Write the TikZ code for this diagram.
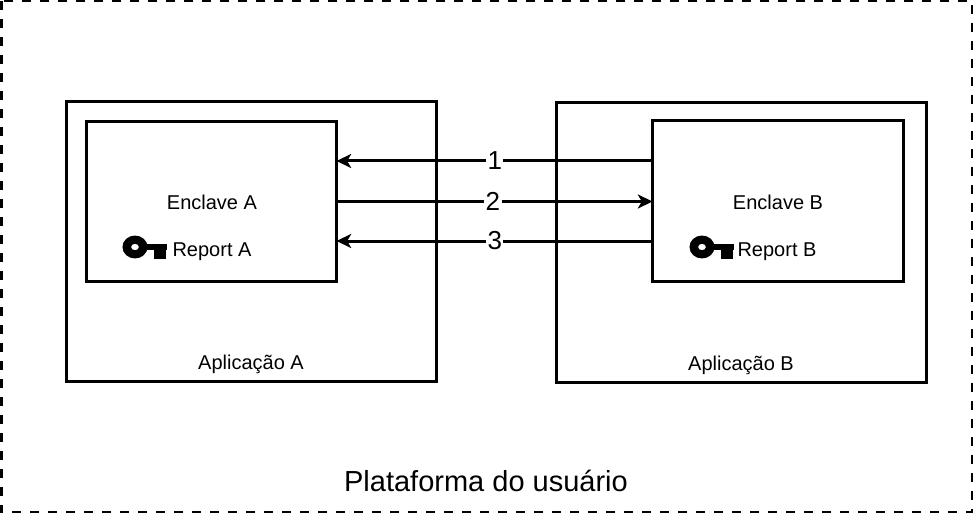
\documentclass[tikz,border=0pt]{standalone}
\usepackage{fontspec}
\setmainfont{Liberation Sans}
\usepackage{xcolor}
\usetikzlibrary{arrows.meta,calc}
\definecolor{ink}{HTML}{000000}
\tikzset{
  platform/.style={draw=ink, line width=2.25pt, dash pattern=on 6.5pt off 7pt},
  box/.style={draw=ink, line width=2.25pt, minimum width=#1, outer sep=0pt},
  lbl/.style={font=\fontsize{15}{18}\selectfont, text=ink, inner sep=0pt},
  biglbl/.style={font=\fontsize{21.75}{26}\selectfont, text=ink, inner sep=0pt},
  num/.style={font=\fontsize{19.5}{23}\selectfont, text=ink, fill=white, inner xsep=1pt, inner ysep=0pt},
  msg/.style={-{Stealth[length=11pt,width=10.5pt,inset=3pt]}, line width=2.25pt, draw=ink}
}
\newcommand{\DrawKey}[2]{% left edge x, centre y
  \fill[ink,even odd rule] (#1+12,#2) circle[x radius=9.4pt, y radius=8.6pt] (#1+12,#2) circle[x radius=3pt, y radius=2.4pt];
  \fill[ink] (#1+22,#2-3) rectangle (#1+44,#2+3);
  \fill[ink] (#1+31,#2) rectangle (#1+43,#2+12);
}

\begin{document}
\begin{tikzpicture}[x=0.75pt,y=-0.75pt]
  \useasboundingbox (0,0) rectangle (973,513);
  \fill[white] (0,0) rectangle (973,513);
  \draw[platform] (1,1) rectangle (972,512);

  \node[box=277.5pt, minimum height=209.25pt] (appA) at (251.5,241.5) {};
  \node[box=277.5pt, minimum height=209.25pt] (appB) at (741.5,242.5) {};
  \node[box=187.5pt, minimum height=119.25pt] (enclaveA) at (211.5,201.5) {};
  \node[box=188.25pt, minimum height=120pt] (enclaveB) at (778,201) {};

  \node[lbl] (txtEnclaveA) at (212,202) {Enclave A};
  \node[lbl] (txtEnclaveB) at (778,202) {Enclave B};
  \node[lbl] (txtReportA) at (212,252) {Report A};
  \node[lbl] (txtReportB) at (777,252) {Report B};
  \node[lbl] (txtAppA) at (251,364) {Aplicação A};
  \node[lbl] (txtAppB) at (741,365) {Aplicação B};
  \node[biglbl] (txtPlatform) at (486,481) {Plataforma do usuário};

  \DrawKey{123}{247}
  \DrawKey{690}{247}

  \draw[msg] ([yshift=30pt]enclaveB.west) -- node[num, pos=0.5, xshift=0.3pt, yshift=0pt] (one) {1} ([yshift=30pt]enclaveB.west -| enclaveA.east);
  \draw[msg] (enclaveA.east) -- node[num, pos=0.49, xshift=1.2pt, yshift=0pt] (two) {2} (enclaveA.east -| enclaveB.west);
  \draw[msg] ([yshift=-30pt]enclaveB.west) -- node[num, pos=0.5, xshift=0.3pt, yshift=0pt] (three) {3} ([yshift=-30pt]enclaveB.west -| enclaveA.east);
\end{tikzpicture}
\end{document}
